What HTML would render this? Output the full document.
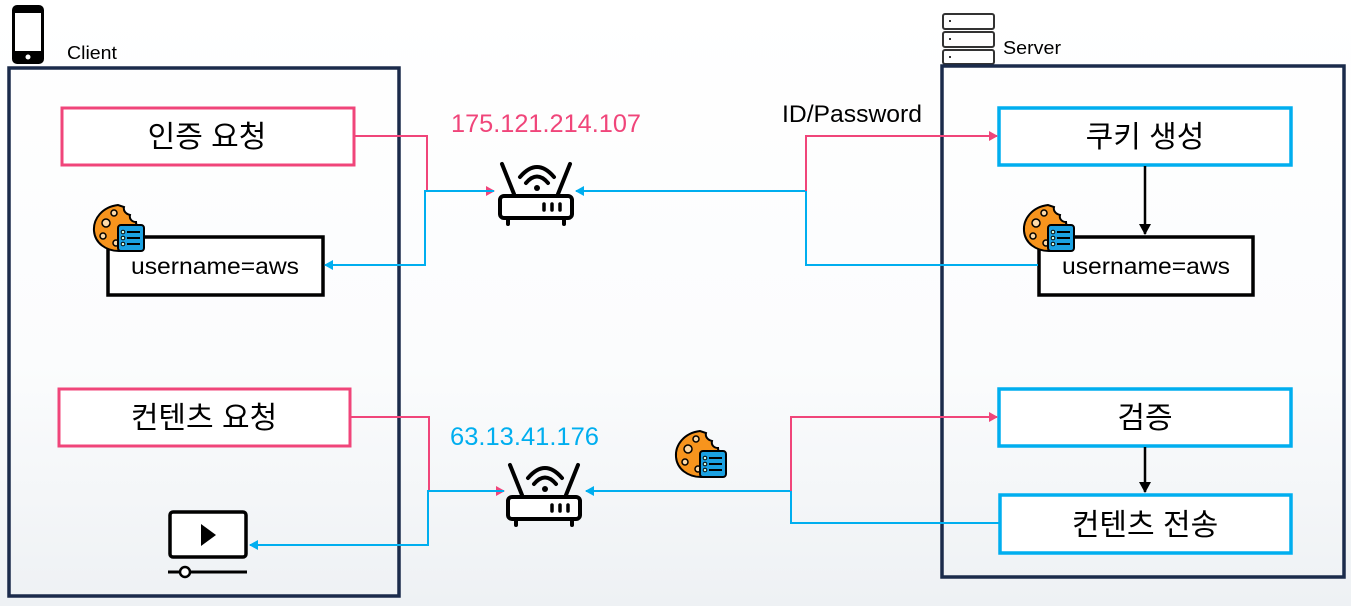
<!DOCTYPE html>
<html><head><meta charset="utf-8"><style>
html,body{margin:0;padding:0;background:#fff;}
svg{display:block;}
text{font-family:"Liberation Sans","Noto Sans CJK KR",sans-serif;}
</style></head><body>
<svg width="1351" height="606" viewBox="0 0 1351 606" xmlns="http://www.w3.org/2000/svg">
<defs>
<linearGradient id="bg" x1="0" y1="0" x2="0" y2="1">
<stop offset="0" stop-color="#ffffff"/><stop offset="0.6" stop-color="#fbfcfd"/><stop offset="1" stop-color="#eef1f4"/>
</linearGradient>
<marker id="ap" markerWidth="10" markerHeight="10" refX="8" refY="5" orient="auto" markerUnits="userSpaceOnUse"><path d="M0,0 L9,5 L0,10 Z" fill="#f0457a"/></marker>
<marker id="ab" markerWidth="10" markerHeight="10" refX="8" refY="5" orient="auto" markerUnits="userSpaceOnUse"><path d="M0,0 L9,5 L0,10 Z" fill="#00aeef"/></marker>
<marker id="ak" markerWidth="12" markerHeight="12" refX="10" refY="6" orient="auto" markerUnits="userSpaceOnUse"><path d="M0,0 L11,6 L0,12 Z" fill="#000"/></marker>
<g id="router">
<path d="M4,9 L16,39 M72,9 L60,39" stroke="#000" stroke-width="4" stroke-linecap="round"/>
<path d="M22,22 Q39,2 56,22 M28,28 Q39,15 50,28" stroke="#000" stroke-width="4" fill="none" stroke-linecap="round"/>
<circle cx="39" cy="33" r="3" fill="#000"/>
<rect x="2" y="41" width="72" height="22" rx="4" fill="#fff" stroke="#000" stroke-width="4"/>
<path d="M46,49 v6 M54,49 v6 M62,49 v6" stroke="#000" stroke-width="3.5" stroke-linecap="round"/>
<path d="M10,63 v6 M66,63 v6" stroke="#000" stroke-width="4" stroke-linecap="round"/>
</g>
<g id="cookie">
<path d="M26,2 C10,4 1,16 2,28 C3,40 14,48 27,48 C40,48 50,38 50,26 C46,26 44,22 44,19 C40,19 37,16 38,12 C34,11 31,8 32,4 Z" fill="#f7941d" stroke="#000" stroke-width="2"/>
<circle cx="14" cy="20" r="4" fill="#fcd9a8" stroke="#000" stroke-width="1.5"/>
<circle cx="22" cy="10" r="3" fill="#fcd9a8" stroke="#000" stroke-width="1.5"/>
<circle cx="11" cy="33" r="3" fill="#fcd9a8" stroke="#000" stroke-width="1.5"/>
<circle cx="24" cy="40" r="3" fill="#fcd9a8" stroke="#000" stroke-width="1.5"/>
<rect x="26" y="22" width="26" height="26" rx="3" fill="#1ba1e2" stroke="#000" stroke-width="2"/>
<path d="M35,29 h13 M35,35 h13 M35,41 h13" stroke="#000" stroke-width="2"/>
<circle cx="31" cy="29" r="1.8" fill="#cfe" stroke="#000" stroke-width="1"/>
<circle cx="31" cy="35" r="1.8" fill="#cfe" stroke="#000" stroke-width="1"/>
<circle cx="31" cy="41" r="1.8" fill="#cfe" stroke="#000" stroke-width="1"/>
</g>
</defs>
<rect width="1351" height="606" fill="url(#bg)"/>

<!-- phone -->
<rect x="12" y="5" width="32" height="59" rx="5" fill="#000"/>
<rect x="15" y="13" width="26" height="38" fill="#fff"/>
<circle cx="28" cy="57" r="2.5" fill="#fff"/>
<text x="67" y="59" font-size="18" fill="#000" textLength="50" lengthAdjust="spacingAndGlyphs">Client</text>

<!-- server icon -->
<g fill="#fff" stroke="#333" stroke-width="2">
<rect x="943" y="14" width="51" height="15" rx="2"/>
<rect x="943" y="32" width="51" height="15" rx="2"/>
<rect x="943" y="50" width="51" height="14" rx="2"/>
</g>
<g fill="#333"><rect x="949" y="20" width="2" height="2"/><rect x="949" y="38" width="2" height="2"/><rect x="949" y="56" width="2" height="2"/></g>
<text x="1003" y="54" font-size="18" fill="#000" textLength="58" lengthAdjust="spacingAndGlyphs">Server</text>

<!-- containers -->
<rect x="9" y="68" width="390" height="528" fill="none" stroke="#1b2b4b" stroke-width="3.5"/>
<rect x="942" y="66" width="402" height="511" fill="none" stroke="#1b2b4b" stroke-width="3.5"/>

<!-- client boxes -->
<rect x="62" y="108" width="292" height="57" fill="#fff" stroke="#f0457a" stroke-width="3"/>
<text x="207" y="147" font-size="30" text-anchor="middle">인증 요청</text>
<rect x="108" y="237" width="215" height="58" fill="#fff" stroke="#000" stroke-width="3.5"/>
<text x="131" y="274" font-size="23" textLength="168" lengthAdjust="spacingAndGlyphs">username=aws</text>
<use href="#cookie" x="92" y="203"/>

<rect x="59" y="389" width="291" height="57" fill="#fff" stroke="#f0457a" stroke-width="3"/>
<text x="204" y="428" font-size="30" text-anchor="middle">컨텐츠 요청</text>

<!-- video icon -->
<rect x="170" y="512" width="76" height="45" rx="3" fill="#fff" stroke="#000" stroke-width="3.5"/>
<path d="M201,524 L216,535 L201,546 Z" fill="#000"/>
<path d="M168,572 H247" stroke="#000" stroke-width="3"/>
<circle cx="185" cy="572" r="5" fill="#fff" stroke="#000" stroke-width="2.5"/>

<!-- server boxes -->
<rect x="999" y="108" width="292" height="57" fill="#fff" stroke="#00aeef" stroke-width="3.5"/>
<text x="1145" y="147" font-size="30" text-anchor="middle">쿠키 생성</text>
<rect x="1039" y="237" width="214" height="58" fill="#fff" stroke="#000" stroke-width="3.5"/>
<text x="1062" y="274" font-size="23" textLength="168" lengthAdjust="spacingAndGlyphs">username=aws</text>
<use href="#cookie" x="1022" y="203"/>
<path d="M1145,166 V234" stroke="#000" stroke-width="2.5" marker-end="url(#ak)"/>

<rect x="999" y="389" width="292" height="57" fill="#fff" stroke="#00aeef" stroke-width="3.5"/>
<text x="1145" y="428" font-size="30" text-anchor="middle">검증</text>
<rect x="1000" y="495" width="291" height="58" fill="#fff" stroke="#00aeef" stroke-width="3.5"/>
<text x="1145" y="535" font-size="30" text-anchor="middle">컨텐츠 전송</text>
<path d="M1145,447 V492" stroke="#000" stroke-width="2.5" marker-end="url(#ak)"/>

<use href="#cookie" x="674" y="429"/>

<!-- routers -->
<use href="#router" x="498" y="155"/>
<use href="#router" x="506" y="456"/>

<!-- IP labels -->
<text x="451" y="132" font-size="25" fill="#f0457a" textLength="190" lengthAdjust="spacingAndGlyphs">175.121.214.107</text>
<text x="450" y="445" font-size="25" fill="#00aeef" textLength="149" lengthAdjust="spacingAndGlyphs">63.13.41.176</text>
<text x="782" y="122" font-size="24" fill="#000" textLength="140" lengthAdjust="spacingAndGlyphs">ID/Password</text>

<!-- connectors top -->
<path d="M354,136 H427 V191 H494" fill="none" stroke="#f0457a" stroke-width="2" marker-end="url(#ap)"/>
<path d="M494,191 H425 V265 H325" fill="none" stroke="#00aeef" stroke-width="2" marker-end="url(#ab)"/>
<path d="M1038,265 H806 V191 H576" fill="none" stroke="#00aeef" stroke-width="2" marker-end="url(#ab)"/>
<path d="M806,191 V136 H997" fill="none" stroke="#f0457a" stroke-width="2" marker-end="url(#ap)"/>

<!-- connectors bottom -->
<path d="M350,417 H429 V491 H504" fill="none" stroke="#f0457a" stroke-width="2" marker-end="url(#ap)"/>
<path d="M504,491 H428 V545 H250" fill="none" stroke="#00aeef" stroke-width="2" marker-end="url(#ab)"/>
<path d="M1000,523 H791 V491 H586" fill="none" stroke="#00aeef" stroke-width="2" marker-end="url(#ab)"/>
<path d="M791,491 V417 H997" fill="none" stroke="#f0457a" stroke-width="2" marker-end="url(#ap)"/>
</svg>
</body></html>
